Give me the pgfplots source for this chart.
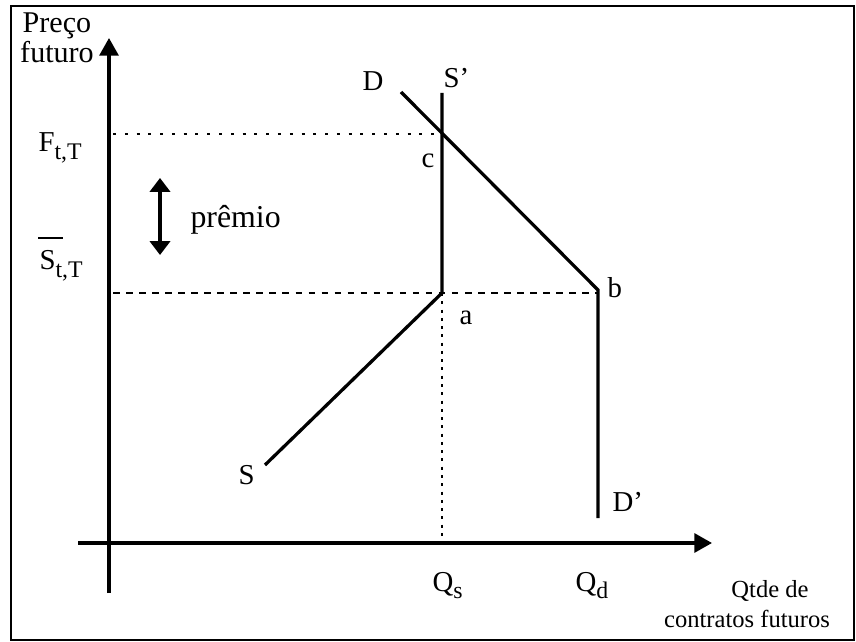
\documentclass[border=0pt]{standalone}
\usepackage{fontspec}
\setmainfont{Liberation Serif}
\usepackage{pgfplots}
\pgfplotsset{compat=1.18}
\usetikzlibrary{arrows.meta}
\newcommand{\sub}[1]{\raisebox{-0.55ex}{\fontsize{9.5}{9.5}\selectfont #1}}
\newcommand{\obar}{\makebox[0pt][l]{\hspace{-0.4pt}\raisebox{12.5pt}{\rule{9.6pt}{0.8pt}}}}
\begin{document}
\begin{tikzpicture}
\begin{axis}[
  scale only axis, width=12cm, height=9cm,
  xmin=0, xmax=856, ymin=0, ymax=642, y dir=reverse,
  hide axis, clip=false,
  every axis plot/.append style={black, no marks, line width=1.3pt},
]
\path (axis cs:0,0) rectangle (axis cs:856,642);
% frame
\addplot[line width=0.9pt, line join=miter] coordinates {(11,6) (854,6) (854,640) (11,640) (11,6) (12,6)};
% axes
\addplot[-{Triangle[length=7pt,width=7.5pt]}] coordinates {(109,593) (109,38)};
\addplot[-{Triangle[length=7pt,width=7.5pt]}] coordinates {(78,543) (712,543)};
% reference lines
\addplot[line width=1.1pt, dash pattern=on 1.2pt off 3.5pt] coordinates {(113,134) (442,134)};
\addplot[line width=1.1pt, dash pattern=on 2.6pt off 2.6pt] coordinates {(113,293) (598,293)};
\addplot[line width=1.1pt, dash pattern=on 1.2pt off 2.1pt] coordinates {(442,293) (442,543)};
% supply and demand
\addplot[line join=miter] coordinates {(265,465) (442,293) (442,93)};
\addplot[line join=miter] coordinates {(401,92) (598,290) (598,518)};
% premium arrow
\addplot[{Triangle[length=5.5pt,width=8pt]}-{Triangle[length=5.5pt,width=8pt]}] coordinates {(160,178) (160,255)};
% labels
\node[anchor=base, font=\fontsize{12}{13}\selectfont] at (axis cs:57,33) {Preço};
\node[anchor=base, font=\fontsize{12}{13}\selectfont] at (axis cs:57,63) {futuro};
\node[anchor=base west, font=\fontsize{11.5}{12}\selectfont, inner sep=0pt] at (axis cs:38,152) {F\sub{t,T}};
\node[anchor=base west, font=\fontsize{11.5}{12}\selectfont, inner sep=0pt] at (axis cs:39,270) {\obar S\sub{t,T}};
\node[anchor=base west, font=\fontsize{12.7}{13}\selectfont, inner sep=0pt] at (axis cs:190,228) {prêmio};
\node[anchor=base west, font=\fontsize{11.5}{12}\selectfont, inner sep=0pt] at (axis cs:362,91) {D};
\node[anchor=base west, font=\fontsize{11.5}{12}\selectfont, inner sep=0pt] at (axis cs:443,88) {S'};
\node[anchor=base west, font=\fontsize{11.5}{12}\selectfont, inner sep=0pt] at (axis cs:421,168) {c};
\node[anchor=base west, font=\fontsize{11.5}{12}\selectfont, inner sep=0pt] at (axis cs:607,298) {b};
\node[anchor=base west, font=\fontsize{11.5}{12}\selectfont, inner sep=0pt] at (axis cs:459,325) {a};
\node[anchor=base west, font=\fontsize{11.5}{12}\selectfont, inner sep=0pt] at (axis cs:238,485) {S};
\node[anchor=base west, font=\fontsize{11.5}{12}\selectfont, inner sep=0pt] at (axis cs:612,512) {D'};
\node[anchor=base west, font=\fontsize{11.5}{12}\selectfont, inner sep=0pt] at (axis cs:432,591) {Q\sub{s}};
\node[anchor=base west, font=\fontsize{11.5}{12}\selectfont, inner sep=0pt] at (axis cs:575,591) {Q\sub{d}};
\node[anchor=base, font=\fontsize{9.8}{10}\selectfont, inner sep=0pt] at (axis cs:770,597) {Qtde de};
\node[anchor=base, font=\fontsize{9.8}{10}\selectfont, inner sep=0pt] at (axis cs:747,627) {contratos futuros};
\end{axis}
\end{tikzpicture}
\end{document}
